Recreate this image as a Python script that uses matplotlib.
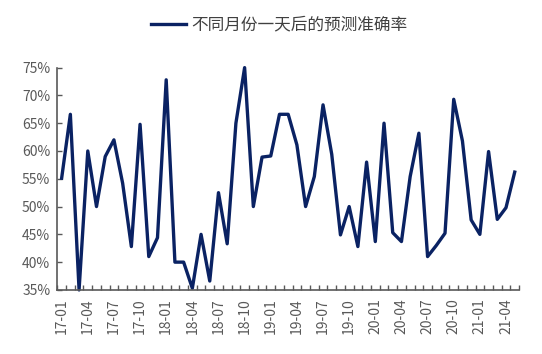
import matplotlib
matplotlib.use("Agg")
import matplotlib.pyplot as plt
from matplotlib.ticker import FixedLocator, PercentFormatter

plt.rcParams['font.family'] = ['Noto Sans CJK SC', 'DejaVu Sans']

# months 17-01 .. 21-05
months = [f"{y:02d}-{m:02d}" for y in range(17, 22) for m in range(1, 13)][:53]

accuracy = [
    55.1, 66.6, 35.0, 60.0, 50.0, 59.0, 62.0, 54.2, 42.8, 64.8,
    41.0, 44.4, 72.8, 40.0, 40.0, 35.3, 45.0, 36.6, 52.5, 43.3,
    65.0, 75.0, 50.0, 58.9, 59.1, 66.6, 66.6, 61.1, 50.0, 55.4,
    68.3, 59.4, 44.9, 50.0, 42.8, 58.0, 43.7, 65.0, 45.3, 43.7,
    55.4, 63.2, 41.0, 43.0, 45.2, 69.3, 61.8, 47.6, 45.0, 59.9,
    47.7, 49.8, 56.2,
]
series_name = "不同月份一天后的预测准确率"

grey = "#595959"
navy = "#0a2263"

fig = plt.figure(figsize=(5.42, 3.54), dpi=100)
ax = fig.add_axes([0.1057, 0.181, 0.852, 0.628])

x = list(range(len(months)))
ax.plot(x, accuracy, color=navy, linewidth=2.4, label=series_name, clip_on=False)

ax.set_xlim(-0.5, len(months) - 0.5)
ax.set_ylim(35, 75)
ax.set_yticks(range(35, 80, 5))
ax.yaxis.set_major_formatter(PercentFormatter(decimals=0))

ax.set_xticks(x[::3])
ax.set_xticklabels(months[::3], rotation=90)
ax.xaxis.set_minor_locator(FixedLocator([i - 0.5 for i in range(len(months) + 1)]))

ax.tick_params(axis='x', which='major', length=0, pad=6, labelsize=10, labelcolor=grey)
ax.tick_params(axis='x', which='minor', direction='in', length=3.5, width=1, color=grey)
ax.tick_params(axis='y', direction='in', length=3.5, width=1, color=grey,
               labelsize=10, labelcolor=grey, pad=5)

for s in ['top', 'right']:
    ax.spines[s].set_visible(False)
for s in ['left', 'bottom']:
    ax.spines[s].set_color(grey)
    ax.spines[s].set_linewidth(1.2)

leg = fig.legend(loc='center', bbox_to_anchor=(0.515, 0.929), frameon=False,
                 fontsize=12, handlelength=2.1, handletextpad=0.3)
for t in leg.get_texts():
    t.set_color("#404040")

fig.savefig("out.png", dpi=100)
